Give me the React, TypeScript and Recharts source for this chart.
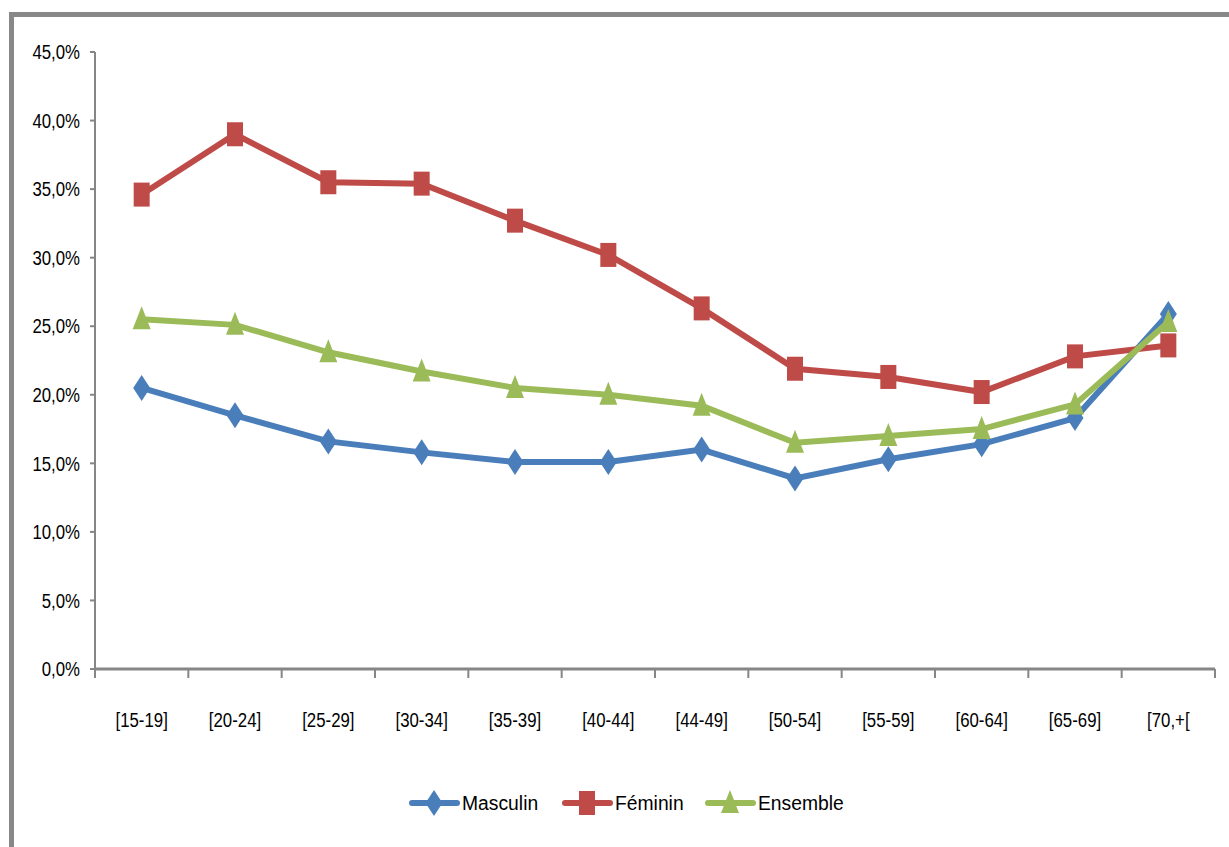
import React from 'react';
import { LineChart, Line, XAxis, YAxis } from 'recharts';

const categories = ['[15-19]', '[20-24]', '[25-29]', '[30-34]', '[35-39]', '[40-44]', '[44-49]', '[50-54]', '[55-59]', '[60-64]', '[65-69]', '[70,+['];
const masculin = [20.5, 18.5, 16.6, 15.8, 15.1, 15.1, 16.0, 13.9, 15.3, 16.4, 18.3, 25.9];
const feminin = [34.6, 39.0, 35.5, 35.4, 32.7, 30.2, 26.3, 21.9, 21.3, 20.2, 22.8, 23.6];
const ensemble = [25.5, 25.1, 23.1, 21.7, 20.5, 20.0, 19.2, 16.5, 17.0, 17.5, 19.3, 25.3];
const yTicks = [0, 5, 10, 15, 20, 25, 30, 35, 40, 45];

const data = categories.map((name, i) => ({
  name,
  masculin: masculin[i],
  feminin: feminin[i],
  ensemble: ensemble[i],
}));

const FONT = "'Liberation Sans', Arial, sans-serif";
const FS = 21;
const BLUE = '#4A7EBB';
const RED = '#BE4B48';
const GREEN = '#9BBB59';
const AXIS = '#868686';

const W = 1229;
const H = 847;
const PLOT_LEFT = 95;
const PLOT_RIGHT = 1215;
const PLOT_BOTTOM = 669;
const BAND = (PLOT_RIGHT - PLOT_LEFT) / categories.length;

const fmt = (v: number) => v.toFixed(1).replace('.', ',') + '%';

const Diamond = ({ cx, cy, fill }: any) => (
  <polygon points={`${cx},${cy - 13} ${cx + 8.5},${cy} ${cx},${cy + 13} ${cx - 8.5},${cy}`} fill={fill} />
);
const Square = ({ cx, cy, fill }: any) => (
  <rect x={cx - 8} y={cy - 12} width={16} height={24} fill={fill} />
);
const Triangle = ({ cx, cy, fill }: any) => (
  <polygon points={`${cx},${cy - 13} ${cx + 9},${cy + 10} ${cx - 9},${cy + 10}`} fill={fill} />
);

// glyphs squeezed horizontally to look like the condensed original
const NarrowText = ({ x, y, anchor, sx = 0.8, children }: any) => (
  <text
    transform={`translate(${x},${y}) scale(${sx},1)`}
    textAnchor={anchor}
    dominantBaseline="central"
    fontFamily={FONT}
    fontSize={FS}
    fill="#000"
  >
    {children}
  </text>
);

const XTick = (props: any) => {
  const { x, y, payload, index } = props;
  const last = index === categories.length - 1;
  return (
    <g>
      <line x1={x - BAND / 2} y1={PLOT_BOTTOM} x2={x - BAND / 2} y2={PLOT_BOTTOM + 9} stroke={AXIS} strokeWidth={2} />
      {last && (
        <line x1={x + BAND / 2} y1={PLOT_BOTTOM} x2={x + BAND / 2} y2={PLOT_BOTTOM + 9} stroke={AXIS} strokeWidth={2} />
      )}
      <NarrowText x={x} y={y} anchor="middle">{payload.value}</NarrowText>
    </g>
  );
};

const YTick = (props: any) => {
  const { x, y, payload } = props;
  return <NarrowText x={x} y={y} anchor="end">{fmt(payload.value)}</NarrowText>;
};

const legendItems = [
  { label: 'Masculin', color: BLUE, Shape: Diamond, x: 412 },
  { label: 'Féminin', color: RED, Shape: Square, x: 565 },
  { label: 'Ensemble', color: GREEN, Shape: Triangle, x: 708 },
];

export default function App() {
  return (
    <div style={{ position: 'absolute', left: 0, top: 0, width: W, height: H, overflow: 'hidden', background: '#fff' }}>
      <div
        style={{
          position: 'absolute',
          left: 9,
          top: 12,
          width: 1260,
          height: 880,
          border: '5px solid #888888',
          boxSizing: 'border-box',
        }}
      />
      <div style={{ position: 'absolute', left: 0, top: 0 }}>
        <LineChart width={W} height={H} data={data} margin={{ top: 52, right: W - PLOT_RIGHT, left: 0, bottom: H - PLOT_BOTTOM - 60 }}>
          <XAxis
            dataKey="name"
            height={60}
            padding={{ left: BAND / 2, right: BAND / 2 }}
            tickSize={0}
            tickMargin={51}
            tickLine={false}
            axisLine={{ stroke: AXIS, strokeWidth: 3 }}
            tick={<XTick />}
            interval={0}
          />
          <YAxis
            width={PLOT_LEFT}
            domain={[0, 45]}
            ticks={yTicks}
            tickSize={5}
            tickMargin={10}
            axisLine={{ stroke: AXIS, strokeWidth: 2 }}
            tickLine={{ stroke: AXIS, strokeWidth: 2 }}
            tick={<YTick />}
          />
          <Line
            dataKey="masculin"
            stroke={BLUE}
            strokeWidth={6}
            isAnimationActive={false}
            dot={(p: any) => <Diamond key={p.key} cx={p.cx} cy={p.cy} fill={BLUE} />}
            activeDot={false}
          />
          <Line
            dataKey="feminin"
            stroke={RED}
            strokeWidth={6}
            isAnimationActive={false}
            dot={(p: any) => <Square key={p.key} cx={p.cx} cy={p.cy} fill={RED} />}
            activeDot={false}
          />
          <Line
            dataKey="ensemble"
            stroke={GREEN}
            strokeWidth={6}
            isAnimationActive={false}
            dot={(p: any) => <Triangle key={p.key} cx={p.cx} cy={p.cy} fill={GREEN} />}
            activeDot={false}
          />
        </LineChart>
      </div>
      <svg style={{ position: 'absolute', left: 0, top: 788 }} width={W} height={32}>
        {legendItems.map(({ label, color, Shape, x }) => (
          <g key={label}>
            <line x1={x} y1={15} x2={x + 45} y2={15} stroke={color} strokeWidth={6} strokeLinecap="round" />
            <Shape cx={x + 22} cy={15} fill={color} />
            <NarrowText x={x + 50} y={15} anchor="start" sx={0.92}>{label}</NarrowText>
          </g>
        ))}
      </svg>
    </div>
  );
}
